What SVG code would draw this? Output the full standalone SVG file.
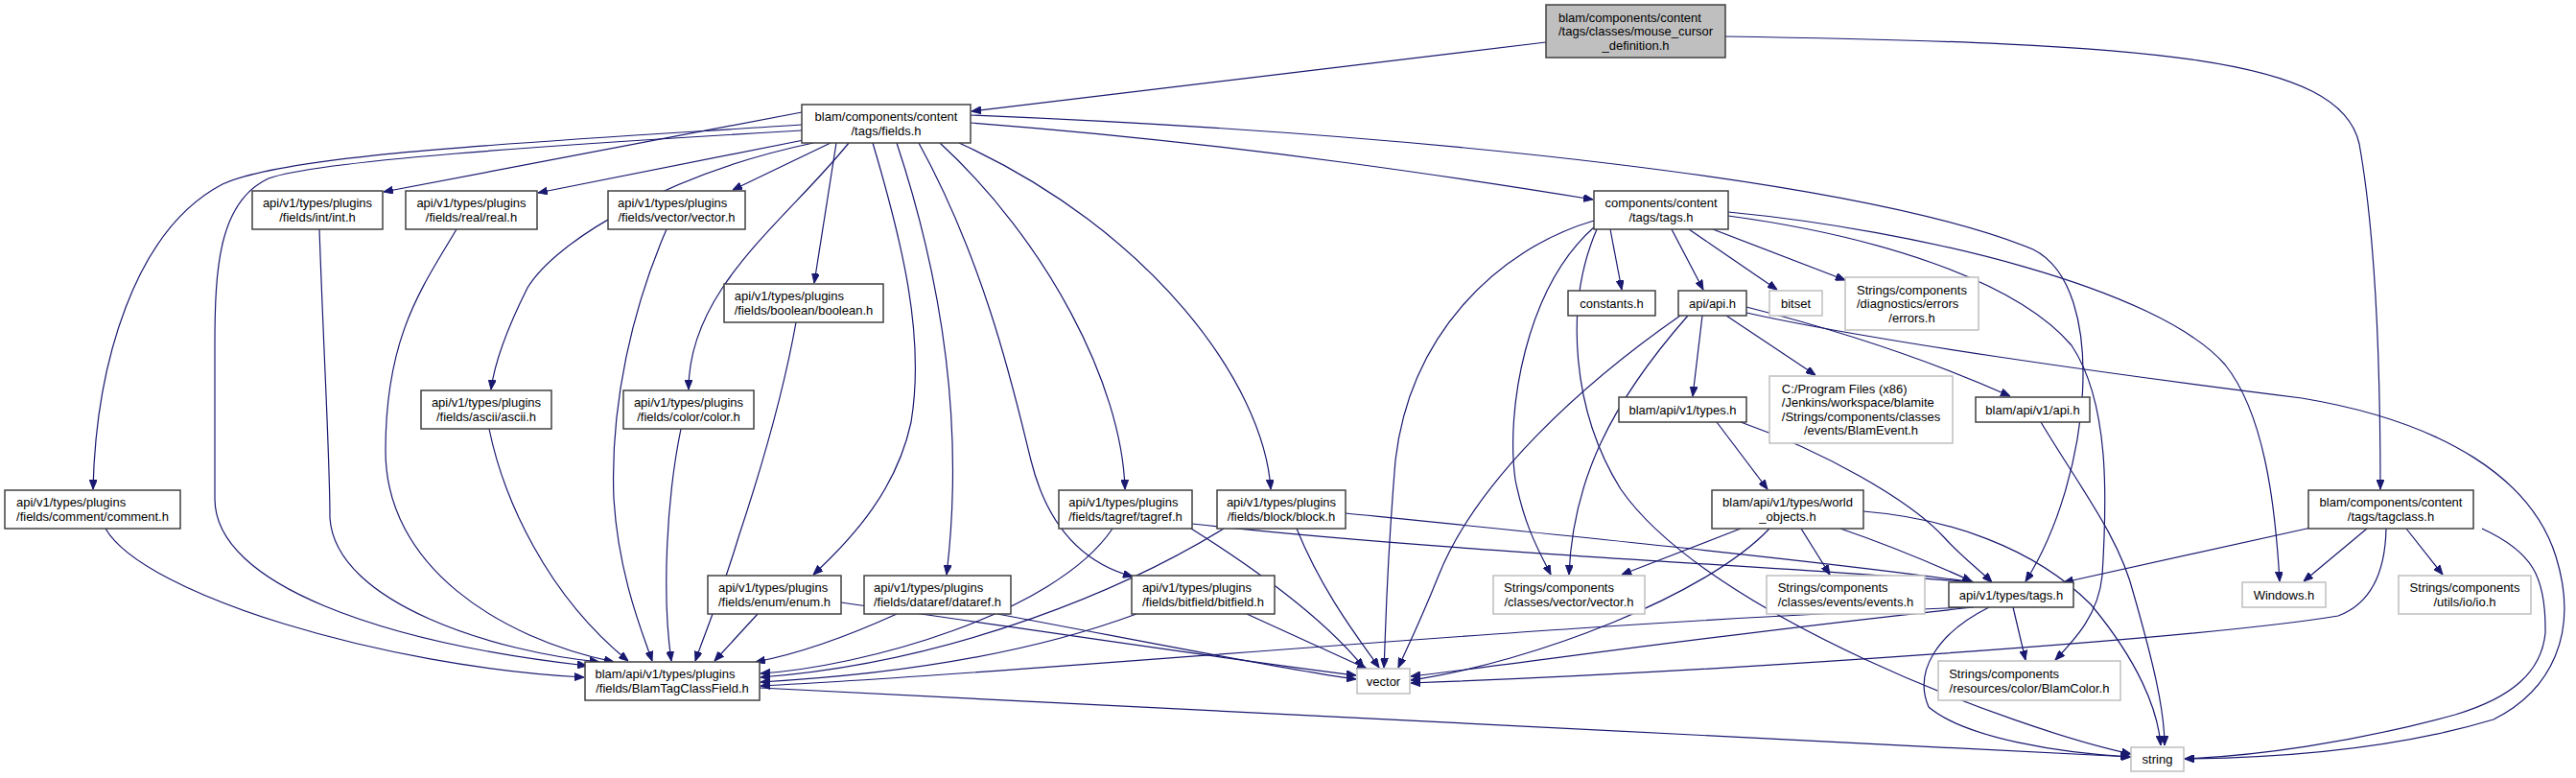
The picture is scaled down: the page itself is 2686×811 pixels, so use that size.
<svg xmlns="http://www.w3.org/2000/svg" width="2686" height="811" viewBox="0 0 2686 811">
<style>
.n rect{fill:#ffffff;stroke:#404040;stroke-width:1.5}
.g rect{fill:#ffffff;stroke:#bfbfbf;stroke-width:1.5}
.c rect{fill:#bfbfbf;stroke:#404040;stroke-width:1.5}
text{font-family:"Liberation Sans",Arial,sans-serif;font-size:13px;fill:#000}
.m{text-anchor:middle}
#edges path{fill:none;stroke:#191970;stroke-width:1.2;marker-end:url(#a)}
</style>
<defs>
<marker id="a" markerWidth="10" markerHeight="8" refX="10" refY="4" orient="auto" markerUnits="userSpaceOnUse"><path d="M0,0 L10,4 L0,8 z" fill="#191970" stroke="#191970" stroke-width="1"/></marker>
</defs>
<rect width="2686" height="811" fill="#ffffff"/>
<g id="edges">
<path d="M1612,44 C1400,70 1200,95 1013,116"/>
<path d="M1799,38 C2250,45 2440,60 2460,150 C2478,250 2482,400 2482,510"/>
<path d="M836,130 C560,148 300,160 232,192 C140,240 100,380 97,510"/>
<path d="M836,136 C560,152 330,168 280,186 C228,210 224,280 224,360 L224,520 C224,610 400,670 612,694"/>
<path d="M836,117 L400,200"/>
<path d="M838,146 L561,201"/>
<path d="M866,149 L764,198"/>
<path d="M872,149 L849,295"/>
<path d="M848,149 C700,180 580,250 550,300 C530,340 516,375 512,406"/>
<path d="M885,149 C820,230 718,300 718,406"/>
<path d="M910,149 C940,250 965,350 950,440 C935,510 890,560 848,599"/>
<path d="M935,149 C985,300 1005,450 987,599"/>
<path d="M958,149 C1030,280 1060,420 1075,480 C1095,560 1140,590 1181,601"/>
<path d="M980,149 C1090,250 1170,400 1173,510"/>
<path d="M1000,149 C1200,240 1318,400 1325,510"/>
<path d="M1012,128 C1300,150 1550,190 1661,208"/>
<path d="M1012,120 C1500,140 1950,190 2120,260 C2200,300 2180,500 2112,606"/>
<path d="M333,239 C338,380 344,480 344,540 C350,630 520,680 625,690"/>
<path d="M476,239 C440,300 402,350 402,470 C402,590 520,665 640,690"/>
<path d="M695,239 C660,320 636,420 640,520 C645,600 670,660 680,689"/>
<path d="M510,447 C525,520 570,620 655,689"/>
<path d="M710,447 C695,520 690,620 700,689"/>
<path d="M830,336 C815,420 790,500 770,560 C752,620 735,660 725,689"/>
<path d="M110,551 C150,620 400,695 609,706"/>
<path d="M790,640 L745,689"/>
<path d="M877,628 C1100,660 1300,690 1414,704"/>
<path d="M935,640 C880,665 830,682 788,690"/>
<path d="M1040,640 C1200,670 1350,700 1414,708"/>
<path d="M1185,640 C1050,690 900,705 793,711"/>
<path d="M1300,640 L1425,697"/>
<path d="M1160,551 C1100,640 900,695 793,702"/>
<path d="M1242,551 C1320,600 1385,650 1422,696"/>
<path d="M1243,546 C1500,575 1850,590 2058,607"/>
<path d="M1276,551 C1180,610 1000,690 793,706"/>
<path d="M1352,551 C1380,620 1420,670 1438,696"/>
<path d="M1403,535 C1650,560 1900,585 2058,607"/>
<path d="M792,717 L2222,789"/>
<path d="M1679,239 L1691,302"/>
<path d="M1743,239 L1776,302"/>
<path d="M1761,239 L1853,302"/>
<path d="M1786,239 L1924,292"/>
<path d="M1662,230 C1560,260 1470,350 1455,480 C1445,600 1445,660 1443,696"/>
<path d="M1663,236 C1590,300 1570,430 1580,500 C1590,550 1605,575 1617,599"/>
<path d="M1665,239 C1630,320 1640,430 1690,510 C1780,640 2100,760 2222,786"/>
<path d="M1802,221 C2000,240 2250,300 2320,380 C2360,430 2372,520 2377,606"/>
<path d="M1802,225 C1950,245 2100,290 2160,360 C2200,420 2197,520 2192,600 C2188,640 2165,665 2143,688"/>
<path d="M1775,329 L1765,413"/>
<path d="M1800,329 L1893,391"/>
<path d="M1821,320 C1900,340 2000,370 2096,413"/>
<path d="M1821,326 C1950,355 2200,390 2400,415 C2550,440 2640,500 2665,580 C2690,660 2660,720 2600,750 C2500,780 2380,790 2278,791"/>
<path d="M1752,329 C1650,400 1540,500 1500,600 C1480,650 1465,680 1458,696"/>
<path d="M1760,329 C1680,420 1640,500 1636,599"/>
<path d="M1790,440 L1843,510"/>
<path d="M1815,440 C1900,470 1990,520 2027,560 C2045,580 2065,595 2077,607"/>
<path d="M2128,440 C2170,510 2210,560 2225,620 C2245,690 2257,740 2257,777"/>
<path d="M1815,551 L1691,599"/>
<path d="M1878,551 L1908,599"/>
<path d="M1919,551 C1960,565 2010,585 2056,606"/>
<path d="M1845,551 C1780,620 1600,690 1471,709"/>
<path d="M1943,533 C2030,540 2120,570 2180,630 C2230,690 2250,740 2253,777"/>
<path d="M2410,550 L2152,607"/>
<path d="M2468,551 L2402,606"/>
<path d="M2509,551 L2547,599"/>
<path d="M2488,551 C2487,600 2470,630 2438,642 C2300,665 1800,700 1471,712"/>
<path d="M2588,551 C2640,575 2655,600 2654,660 C2650,700 2620,727 2560,745 C2450,775 2350,788 2278,791"/>
<path d="M2053,633 C1600,650 1100,700 793,715"/>
<path d="M2058,633 C1800,660 1600,690 1471,705"/>
<path d="M2099,633 L2112,688"/>
<path d="M2074,633 C2020,660 1995,700 2011,737 C2050,770 2150,785 2221,789"/>
</g>
<g id="mcd" class="c"><rect x="1612" y="5" width="187" height="55"/><text x="1625" y="22.5">blam/components/content</text><text x="1625" y="37">/tags/classes/mouse_cursor</text><text class="m" x="1705.5" y="51.5">_definition.h</text></g>
<g id="fields" class="n"><rect x="836" y="109" width="176" height="40"/><text x="849.6" y="126.3">blam/components/content</text><text class="m" x="924" y="140.8">/tags/fields.h</text></g>
<g id="int" class="n"><rect x="263" y="199" width="136" height="40"/><text x="273.9" y="216.3">api/v1/types/plugins</text><text class="m" x="331" y="230.8">/fields/int/int.h</text></g>
<g id="real" class="n"><rect x="423" y="199" width="137" height="40"/><text x="434.4" y="216.3">api/v1/types/plugins</text><text class="m" x="491.5" y="230.8">/fields/real/real.h</text></g>
<g id="vecp" class="n"><rect x="634" y="199" width="143" height="40"/><text x="644.1" y="216.3">api/v1/types/plugins</text><text class="m" x="705.5" y="230.8">/fields/vector/vector.h</text></g>
<g id="ctags" class="n"><rect x="1662" y="199" width="140" height="40"/><text x="1673.5" y="216.3">components/content</text><text class="m" x="1732" y="230.8">/tags/tags.h</text></g>
<g id="constants" class="n"><rect x="1635" y="303" width="91" height="26"/><text class="m" x="1680.5" y="320.5">constants.h</text></g>
<g id="apiapi" class="n"><rect x="1750" y="303" width="71" height="26"/><text class="m" x="1785.5" y="320.5">api/api.h</text></g>
<g id="bitset" class="g"><rect x="1845" y="303" width="55" height="26"/><text class="m" x="1872.5" y="320.5">bitset</text></g>
<g id="errors" class="g"><rect x="1924" y="289" width="139" height="55"/><text x="1936" y="306.5">Strings/components</text><text x="1936" y="321">/diagnostics/errors</text><text class="m" x="1993.5" y="335.5">/errors.h</text></g>
<g id="boolean" class="n"><rect x="755" y="296" width="166" height="40"/><text x="765.8" y="313.3">api/v1/types/plugins</text><text class="m" x="838" y="327.8">/fields/boolean/boolean.h</text></g>
<g id="ascii" class="n"><rect x="439" y="407" width="136" height="40"/><text x="449.9" y="424.3">api/v1/types/plugins</text><text class="m" x="507" y="438.8">/fields/ascii/ascii.h</text></g>
<g id="color" class="n"><rect x="650" y="407" width="136" height="40"/><text x="660.9" y="424.3">api/v1/types/plugins</text><text class="m" x="718" y="438.8">/fields/color/color.h</text></g>
<g id="blamevent" class="g"><rect x="1845" y="392" width="191" height="70"/><text x="1857.8" y="409.8">C:/Program Files (x86)</text><text x="1857.8" y="424.3">/Jenkins/workspace/blamite</text><text x="1857.8" y="438.8">/Strings/components/classes</text><text class="m" x="1940.5" y="453.3">/events/BlamEvent.h</text></g>
<g id="types" class="n"><rect x="1688" y="414" width="133" height="26"/><text class="m" x="1754.5" y="431.5">blam/api/v1/types.h</text></g>
<g id="bapi" class="n"><rect x="2060" y="414" width="119" height="26"/><text class="m" x="2119.5" y="431.5">blam/api/v1/api.h</text></g>
<g id="comment" class="n"><rect x="5" y="511" width="183" height="40"/><text x="17" y="528.3">api/v1/types/plugins</text><text class="m" x="96.5" y="542.8">/fields/comment/comment.h</text></g>
<g id="tagref" class="n"><rect x="1104" y="511" width="139" height="40"/><text x="1114.3" y="528.3">api/v1/types/plugins</text><text class="m" x="1173.5" y="542.8">/fields/tagref/tagref.h</text></g>
<g id="block" class="n"><rect x="1269" y="511" width="134" height="40"/><text x="1278.9" y="528.3">api/v1/types/plugins</text><text class="m" x="1336" y="542.8">/fields/block/block.h</text></g>
<g id="world" class="n"><rect x="1785" y="511" width="158" height="40"/><text x="1796.1" y="528.3">blam/api/v1/types/world</text><text class="m" x="1864" y="542.8">_objects.h</text></g>
<g id="tagclass" class="n"><rect x="2407" y="511" width="172" height="40"/><text x="2418.6" y="528.3">blam/components/content</text><text class="m" x="2493" y="542.8">/tags/tagclass.h</text></g>
<g id="enum" class="n"><rect x="738" y="600" width="139" height="40"/><text x="749" y="617.3">api/v1/types/plugins</text><text class="m" x="807.5" y="631.8">/fields/enum/enum.h</text></g>
<g id="dataref" class="n"><rect x="901" y="600" width="153" height="40"/><text x="911" y="617.3">api/v1/types/plugins</text><text class="m" x="977.5" y="631.8">/fields/dataref/dataref.h</text></g>
<g id="bitfield" class="n"><rect x="1180" y="600" width="149" height="40"/><text x="1190.9" y="617.3">api/v1/types/plugins</text><text class="m" x="1254.5" y="631.8">/fields/bitfield/bitfield.h</text></g>
<g id="classesvec" class="g"><rect x="1557" y="600" width="158" height="40"/><text x="1568.1" y="617.3">Strings/components</text><text class="m" x="1636" y="631.8">/classes/vector/vector.h</text></g>
<g id="events" class="g"><rect x="1842" y="600" width="165" height="40"/><text x="1853.7" y="617.3">Strings/components</text><text class="m" x="1924.5" y="631.8">/classes/events/events.h</text></g>
<g id="apitags" class="n"><rect x="2032" y="607" width="130" height="26"/><text class="m" x="2097" y="624.5">api/v1/types/tags.h</text></g>
<g id="windows" class="g"><rect x="2338" y="607" width="87" height="26"/><text class="m" x="2381.5" y="624.5">Windows.h</text></g>
<g id="io" class="g"><rect x="2501" y="600" width="138" height="40"/><text x="2512.6" y="617.3">Strings/components</text><text class="m" x="2570" y="631.8">/utils/io/io.h</text></g>
<g id="btcf" class="n"><rect x="610" y="690" width="182" height="40"/><text x="620.5" y="707.3">blam/api/v1/types/plugins</text><text class="m" x="701" y="721.8">/fields/BlamTagClassField.h</text></g>
<g id="vector" class="g"><rect x="1415" y="697" width="55" height="26"/><text class="m" x="1442.5" y="714.5">vector</text></g>
<g id="blamcolor" class="g"><rect x="2021" y="689" width="190" height="41"/><text x="2032.2" y="707.3">Strings/components</text><text class="m" x="2116" y="721.8">/resources/color/BlamColor.h</text></g>
<g id="string" class="g"><rect x="2222" y="779" width="55" height="25"/><text class="m" x="2249.5" y="796">string</text></g>
</svg>
